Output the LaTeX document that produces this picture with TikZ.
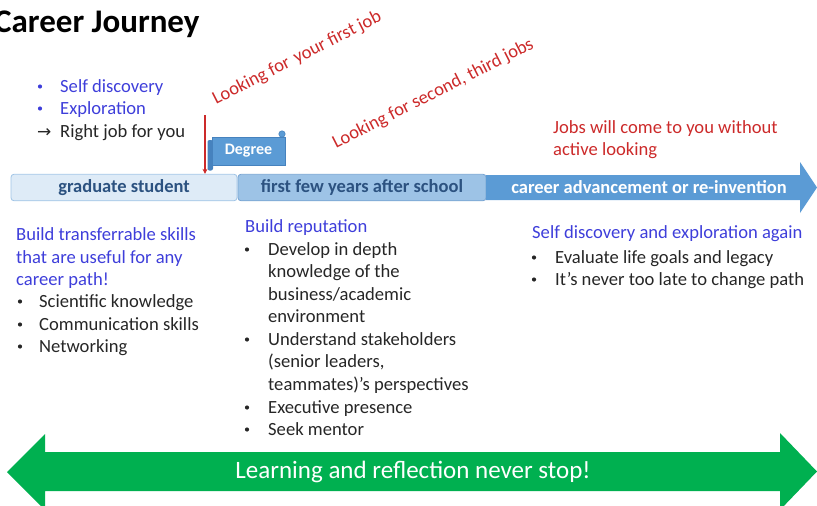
\documentclass[tikz,border=0pt]{standalone}
\usepackage{fontspec}
\setmainfont{Carlito}
\newfontfamily\symfont{DejaVu Sans}
\usetikzlibrary{arrows.meta}

\definecolor{bluetext}{RGB}{62,62,218}
\definecolor{redtext}{RGB}{204,42,42}
\definecolor{bodytext}{RGB}{38,38,38}
\definecolor{barlight}{RGB}{222,235,247}
\definecolor{barlightline}{RGB}{160,196,230}
\definecolor{barmid}{RGB}{157,195,230}
\definecolor{barmidline}{RGB}{120,164,210}
\definecolor{bardark}{RGB}{91,155,213}
\definecolor{bardarkline}{RGB}{70,130,190}
\definecolor{barlabel}{RGB}{44,82,128}
\definecolor{greenarrow}{RGB}{0,176,80}

\newcommand{\bodysize}{\fontsize{18.6}{22.5}\selectfont}

\begin{document}
\begin{tikzpicture}[x=1pt,y=-1pt,
  txt/.style={anchor=base west, inner sep=0pt, font=\bodysize, text=bodytext},
  bluetxt/.style={txt, text=bluetext},
  redtxt/.style={txt, text=redtext},
  dot/.style={circle, fill=bodytext, inner sep=0pt, minimum size=4.2pt},
  bluedot/.style={dot, fill=bluetext},
  segment/.style={rounded corners=3pt, line width=0.8pt, minimum height=26.5pt,
    inner sep=0pt, font=\bfseries\fontsize{18.5}{20}\selectfont, text=barlabel},
  degreebox/.style={fill=bardark, draw=bardarkline, line width=0.6pt, minimum width=73pt,
    minimum height=28pt, inner sep=0pt, text=white, font=\bfseries\fontsize{16}{18}\selectfont}
]
\useasboundingbox (0,0) rectangle (817,506);

% title
\node[anchor=base west, inner sep=0pt, font=\bfseries\fontsize{33}{36}\selectfont] (title) at (-6,32) {Career Journey};

% early exploration
\node[bluedot] (b1) at (40,86.5) {};
\node[bluetxt] (t1) at (60,92) {Self discovery};
\node[bluedot] (b2) at (40,108.5) {};
\node[bluetxt] (t2) at (60,114) {Exploration};
\node[anchor=base west, inner sep=0pt, font=\symfont\fontsize{17}{18}\selectfont, text=bodytext] (ar) at (37,137) {→};
\node[txt] (t3) at (60,137) {Right job for you};

% timeline bar
\node[segment, draw=barlightline, fill=barlight, minimum width=226pt] (gs) at (124,187.5) {graduate student};
\node[segment, draw=barmidline, fill=barmid, minimum width=248pt] (ffy) at (362,187.5) {first few years after school};
\fill[bardark] (486,175) -- (800,175) -- (800,162) -- (817,187.5) -- (800,213) -- (800,200) -- (486,200) -- cycle;
\node[inner sep=0pt, font=\bfseries\fontsize{18.5}{20}\selectfont, text=white] (car) at (649,187.5) {career advancement or re-invention};

% degree scroll: rolled ends at lower left and upper right
\fill[bardarkline, rounded corners=2pt] (207.5,140) rectangle (213,170.5);
\node[degreebox] (degree) at (248.5,151) {Degree};
\fill[bardark] (282,134) circle (3.2pt);
\draw[bardarkline, line width=0.6pt] (282,134) circle (3.2pt);

% first-job marker
\coordinate (jobtop) at (205,115);
\draw[redtext, line width=1.6pt, -{Stealth[length=5pt,width=5pt]}] (jobtop) -- (jobtop |- gs.north);

% job search notes
\node[redtxt, rotate=27] (first) at (216,105) {Looking for\hspace{2pt} your first job};
\node[redtxt, rotate=27] (second) at (336,149) {Looking for second, third jobs};
\node[redtxt] (j1) at (553,133) {Jobs will come to you without};
\node[redtxt] (j2) at (553,155) {active looking};

% graduate student notes
\node[bluetxt] (l1) at (16,240) {Build transferrable skills};
\node[bluetxt] (l2) at (16,263) {that are useful for any};
\node[bluetxt] (l3) at (16,285) {career path!};
\node[dot] (lb1) at (20,301.5) {};
\node[txt] (l4) at (39,307) {Scientific knowledge};
\node[dot] (lb2) at (20,324.5) {};
\node[txt] (l5) at (39,330) {Communication skills};
\node[dot] (lb3) at (20,346.5) {};
\node[txt] (l6) at (39,352) {Networking};

% early career notes
\node[bluetxt] (m0) at (245,232) {Build reputation};
\node[dot] (mb1) at (247,249.5) {};
\node[txt] (m1) at (268,255) {Develop in depth};
\node[txt] (m2) at (268,277) {knowledge of the};
\node[txt] (m3) at (268,300) {business/academic};
\node[txt] (m4) at (268,322) {environment};
\node[dot] (mb2) at (247,339.5) {};
\node[txt] (m5) at (268,345) {Understand stakeholders};
\node[txt] (m6) at (268,367) {(senior leaders,};
\node[txt] (m7) at (268,390) {teammates)’s perspectives};
\node[dot] (mb3) at (247,407.5) {};
\node[txt] (m8) at (268,413) {Executive presence};
\node[dot] (mb4) at (247,429.5) {};
\node[txt] (m9) at (268,435) {Seek mentor};

% later career notes
\node[bluetxt] (r0) at (532,238) {Self discovery and exploration again};
\node[dot] (rb1) at (534,257.5) {};
\node[txt] (r1) at (555,263) {Evaluate life goals and legacy};
\node[dot] (rb2) at (534,279.5) {};
\node[txt] (r2) at (555,285) {It’s never too late to change path};

% lifelong learning arrow
\fill[greenarrow] (7,472) -- (45,434) -- (45,452) -- (780,452) -- (780,433) -- (817,471.5)
  -- (780,510) -- (780,491) -- (45,491) -- (45,510) -- cycle;
\node[inner sep=0pt, font=\fontsize{25}{28}\selectfont, text=white] (learn) at (413,471.5) {Learning and reflection never stop!};
\end{tikzpicture}
\end{document}
